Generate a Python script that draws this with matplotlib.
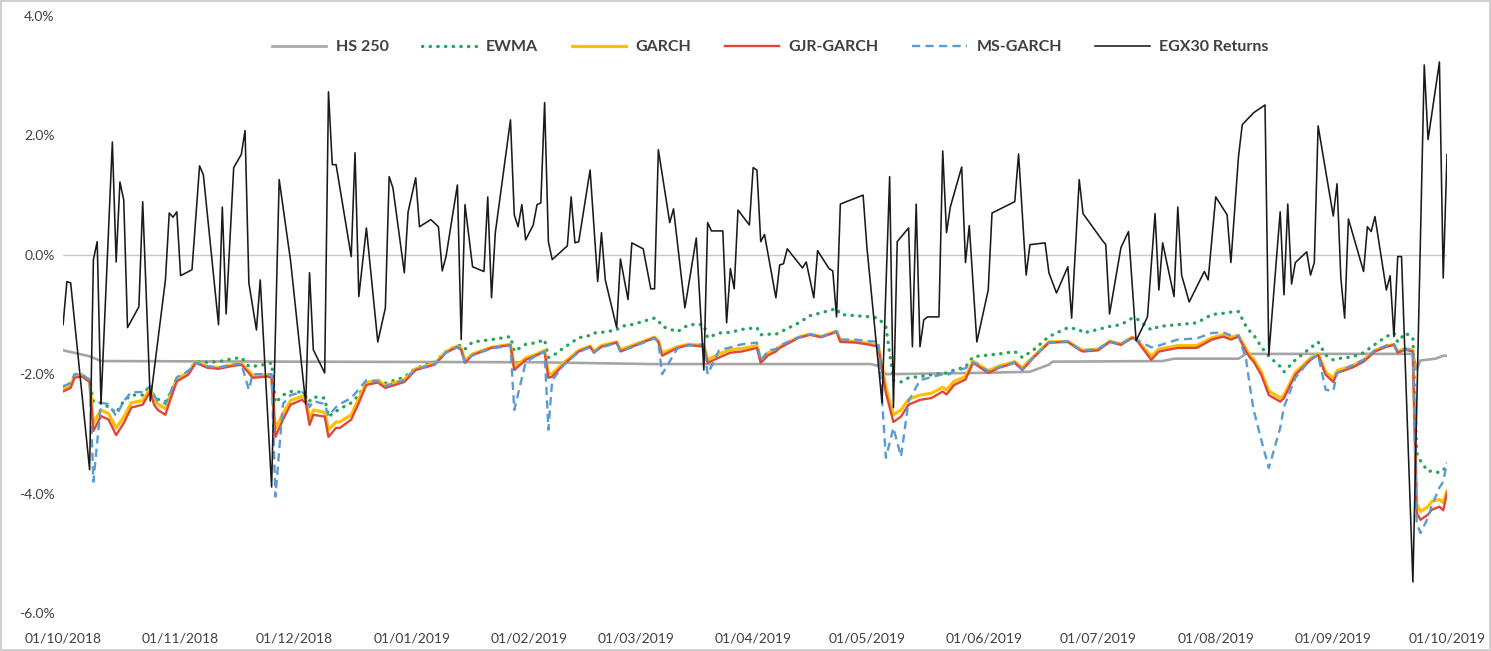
import matplotlib
matplotlib.use('Agg')
from matplotlib import pyplot as plt
from matplotlib.ticker import FuncFormatter
import matplotlib.dates as mdates
import pandas as pd

plt.rcParams['font.family'] = ['Lato', 'DejaVu Sans']

start = pd.Timestamp('2018-10-01')
month_ticks = pd.date_range('2018-10-01', '2019-10-01', freq='MS')

# EGX30 daily returns in %, days counted from 01/10/2018
ret_days = [0, 1, 2, 7, 8, 9, 10, 13, 14, 15, 16, 17, 20, 21, 23, 27, 28, 29, 30, 31,
            34, 36, 37, 41, 42, 43, 45, 47, 48, 49, 51, 52, 55, 57, 60, 64, 65, 66, 69, 70,
            71, 72, 76, 77, 78, 80, 83, 85, 86, 87, 90, 91, 93, 94, 97, 99, 100, 101, 104, 105,
            106, 108, 111, 112, 113, 114, 118, 119, 120, 121, 122, 124, 125, 126, 127, 128, 129, 133, 134, 135,
            136, 139, 141, 142, 143, 146, 147, 149, 150, 153, 155, 156, 157, 160, 161, 164, 167, 169, 170, 171,
            174, 175, 176, 177, 178, 181, 182, 183, 184, 185, 188, 189, 190, 191, 195, 196, 198, 199, 202, 203,
            204, 205, 211, 212, 216, 218, 219, 220, 223, 224, 225, 226, 227, 228, 231, 232, 233, 234, 237, 238,
            239, 241, 244, 245, 251, 252, 254, 255, 259, 260, 262, 265, 266, 268, 269, 274, 275, 276, 279, 281,
            283, 286, 288, 289, 290, 293, 294, 295, 297, 301, 302, 304, 307, 308, 310, 311, 314, 317, 318, 321,
            322, 323, 324, 325, 328, 329, 330, 331, 335, 336, 337, 338, 339, 343, 344, 345, 346, 349, 350, 351,
            352, 353, 356, 359, 360, 363, 364, 365]
ret_vals = [-1.17, -0.45, -0.47, -3.60, -0.08, 0.22, -2.50, 1.89, -0.12, 1.22, 0.92, -1.22, -0.87, 0.89, -2.45, -0.42, 0.70, 0.63, 0.72, -0.35,
            -0.25, 1.49, 1.34, -1.17, 0.80, -0.99, 1.46, 1.68, 2.08, -0.47, -1.26, -0.42, -3.89, 1.26, -0.10, -2.50, -0.30, -1.59, -1.98, 2.73,
            1.51, 1.51, -0.03, 1.71, -0.70, 0.45, -1.46, -0.89, 1.31, 1.12, -0.30, 0.72, 1.29, 0.47, 0.59, 0.47, -0.27, -0.03, 1.17, -1.42,
            0.84, -0.20, -0.28, 0.97, -0.72, 0.37, 2.26, 0.67, 0.47, 0.84, 0.25, 0.50, 0.84, 0.87, 2.55, 0.22, -0.08, 0.15, 0.97, 0.20,
            0.22, 1.42, -0.45, 0.37, -0.42, -1.22, -0.07, -0.75, 0.20, 0.10, -0.57, -0.57, 1.76, 0.54, 0.77, -0.89, 0.28, -1.93, 0.54, 0.40,
            0.40, -1.14, -0.23, -0.57, 0.75, 0.50, 1.46, 1.42, 0.22, 0.34, -0.72, -0.17, -0.15, 0.10, -0.22, -0.12, -0.72, 0.07, -0.23, -0.27,
            -1.04, 0.85, 1.00, 0.13, -2.48, 1.31, -2.56, 0.22, 0.45, -1.54, 0.85, -1.54, -1.09, -1.04, -1.04, 1.74, 0.37, 0.80, 1.47, -0.13,
            0.49, -1.46, -0.59, 0.70, 0.89, 1.69, -0.34, 0.17, 0.20, -0.30, -0.64, -0.20, -1.06, 1.26, 0.69, 0.25, 0.17, -0.99, 0.12, 0.39,
            -1.44, -1.04, 0.69, -0.59, 0.20, -0.70, 0.80, -0.34, -0.79, -0.28, -0.42, 0.97, 0.67, -0.13, 1.64, 2.18, 2.38, 2.51, -1.68, 0.72,
            -0.67, 0.85, -0.49, -0.13, 0.05, -0.34, -0.13, 2.16, 0.65, 1.19, -0.39, -1.06, 0.60, -0.28, 0.47, 0.39, 0.64, -0.59, -0.35, -1.37,
            -0.03, -0.03, -5.48, 3.18, 1.93, 3.23, -0.39, 1.68]

# historical simulation VaR (250 day window)
hs_days = [0, 7, 10, 60, 125, 155, 213, 215, 217, 240, 255, 260, 261, 290, 293, 310, 312, 356, 357, 358, 362, 364, 365]
hs_vals = [-1.60, -1.70, -1.78, -1.79, -1.80, -1.83, -1.83, -1.86, -2.00, -1.98, -1.96, -1.84, -1.79, -1.78, -1.74, -1.74, -1.66, -1.66, -1.92, -1.77, -1.74, -1.69, -1.69]

# model VaR estimates in %
var_days = [0, 2, 3, 5, 7, 8, 10, 12, 14, 16,
            18, 21, 23, 24, 25, 27, 28, 30, 33, 35,
            38, 41, 44, 47, 49, 50, 54, 55, 56, 58,
            60, 63, 64, 65, 66, 69, 70, 72, 73, 76,
            78, 80, 83, 85, 90, 93, 98, 101, 104, 105,
            106, 108, 113, 118, 119, 122, 125, 127, 128, 129,
            132, 136, 139, 140, 142, 146, 147, 150, 156, 157,
            158, 162, 165, 169, 170, 173, 176, 179, 183, 184,
            186, 188, 189, 194, 197, 200, 204, 205, 209, 213,
            215, 217, 219, 221, 223, 226, 229, 232, 233, 235,
            238, 240, 241, 244, 247, 251, 253, 256, 260, 265,
            268, 269, 273, 276, 279, 282, 283, 287, 289, 294,
            299, 303, 306, 308, 310, 312, 313, 314, 316, 318,
            321, 322, 325, 329, 331, 333, 335, 336, 340, 343,
            346, 349, 351, 352, 354, 356, 357, 358, 360, 361,
            363, 364, 365]
ewma = [-2.21, -2.15, -2.05, -2.01, -2.10, -2.46, -2.48, -2.55, -2.65, -2.45,
        -2.35, -2.35, -2.18, -2.38, -2.42, -2.46, -2.35, -2.10, -1.95, -1.79,
        -1.80, -1.79, -1.75, -1.72, -1.87, -1.87, -1.83, -1.81, -2.48, -2.35,
        -2.29, -2.30, -2.38, -2.45, -2.38, -2.40, -2.71, -2.62, -2.58, -2.48,
        -2.35, -2.15, -2.10, -2.15, -2.05, -1.90, -1.80, -1.62, -1.52, -1.52,
        -1.58, -1.46, -1.42, -1.37, -1.62, -1.50, -1.47, -1.42, -1.72, -1.70,
        -1.56, -1.39, -1.35, -1.31, -1.30, -1.26, -1.20, -1.17, -1.06, -1.10,
        -1.20, -1.29, -1.17, -1.17, -1.39, -1.31, -1.30, -1.25, -1.22, -1.34,
        -1.33, -1.33, -1.30, -1.14, -1.02, -0.97, -0.90, -1.00, -1.02, -1.04,
        -1.06, -1.20, -2.10, -2.13, -2.06, -2.04, -2.01, -1.98, -1.98, -1.93,
        -1.88, -1.71, -1.70, -1.68, -1.66, -1.62, -1.72, -1.59, -1.37, -1.22,
        -1.25, -1.31, -1.25, -1.20, -1.17, -1.06, -1.06, -1.26, -1.20, -1.17,
        -1.14, -1.00, -0.98, -0.96, -0.95, -1.20, -1.28, -1.34, -1.54, -1.70,
        -1.87, -1.96, -1.76, -1.56, -1.46, -1.68, -1.76, -1.74, -1.71, -1.64,
        -1.50, -1.37, -1.31, -1.46, -1.31, -1.39, -3.32, -3.45, -3.63, -3.62,
        -3.65, -3.60, -3.55]
garch = [-2.25, -2.19, -2.03, -2.02, -2.10, -2.82, -2.60, -2.66, -2.90, -2.72,
         -2.48, -2.44, -2.24, -2.42, -2.50, -2.58, -2.40, -2.07, -1.98, -1.79,
         -1.87, -1.89, -1.85, -1.82, -1.95, -2.02, -2.01, -2.03, -2.92, -2.66,
         -2.44, -2.37, -2.42, -2.75, -2.60, -2.64, -2.93, -2.80, -2.80, -2.68,
         -2.41, -2.14, -2.10, -2.19, -2.09, -1.91, -1.82, -1.62, -1.53, -1.57,
         -1.77, -1.66, -1.55, -1.50, -1.88, -1.73, -1.66, -1.60, -2.00, -1.99,
         -1.81, -1.60, -1.53, -1.62, -1.52, -1.46, -1.59, -1.52, -1.38, -1.44,
         -1.65, -1.54, -1.50, -1.52, -1.76, -1.66, -1.59, -1.57, -1.52, -1.76,
         -1.64, -1.59, -1.54, -1.38, -1.33, -1.37, -1.28, -1.43, -1.45, -1.49,
         -1.52, -2.22, -2.68, -2.60, -2.42, -2.35, -2.32, -2.22, -2.26, -2.12,
         -2.04, -1.78, -1.82, -1.94, -1.86, -1.79, -1.89, -1.70, -1.46, -1.45,
         -1.57, -1.60, -1.58, -1.45, -1.49, -1.38, -1.41, -1.70, -1.58, -1.52,
         -1.52, -1.39, -1.34, -1.38, -1.35, -1.58, -1.68, -1.75, -1.96, -2.28,
         -2.40, -2.35, -1.97, -1.73, -1.66, -1.96, -2.07, -1.94, -1.86, -1.76,
         -1.60, -1.53, -1.50, -1.62, -1.57, -1.60, -4.18, -4.30, -4.22, -4.13,
         -4.10, -4.15, -3.95]
gjr = [-2.29, -2.23, -2.06, -2.04, -2.13, -2.95, -2.70, -2.76, -3.02, -2.82,
       -2.56, -2.51, -2.29, -2.51, -2.60, -2.68, -2.48, -2.12, -2.01, -1.81,
       -1.89, -1.91, -1.87, -1.84, -1.98, -2.06, -2.04, -2.06, -3.05, -2.76,
       -2.51, -2.43, -2.48, -2.85, -2.68, -2.71, -3.05, -2.90, -2.90, -2.76,
       -2.48, -2.18, -2.14, -2.23, -2.13, -1.93, -1.84, -1.64, -1.54, -1.59,
       -1.81, -1.68, -1.56, -1.51, -1.93, -1.76, -1.68, -1.62, -2.06, -2.04,
       -1.84, -1.62, -1.54, -1.64, -1.54, -1.47, -1.62, -1.54, -1.39, -1.46,
       -1.69, -1.56, -1.51, -1.54, -1.81, -1.72, -1.64, -1.62, -1.56, -1.81,
       -1.68, -1.62, -1.56, -1.39, -1.34, -1.38, -1.29, -1.46, -1.47, -1.51,
       -1.54, -2.31, -2.80, -2.71, -2.51, -2.43, -2.40, -2.29, -2.34, -2.18,
       -2.09, -1.81, -1.85, -1.98, -1.89, -1.81, -1.93, -1.72, -1.47, -1.46,
       -1.59, -1.62, -1.60, -1.46, -1.51, -1.39, -1.42, -1.76, -1.62, -1.56,
       -1.56, -1.42, -1.37, -1.42, -1.37, -1.62, -1.72, -1.79, -2.01, -2.35,
       -2.46, -2.40, -2.01, -1.76, -1.68, -2.01, -2.13, -1.98, -1.89, -1.79,
       -1.62, -1.54, -1.51, -1.64, -1.59, -1.62, -4.32, -4.44, -4.35, -4.27,
       -4.22, -4.28, -3.99]
msgarch = [-2.20, -2.15, -2.00, -2.00, -2.10, -3.80, -2.48, -2.50, -2.70, -2.45,
           -2.30, -2.30, -2.20, -2.35, -2.45, -2.50, -2.35, -2.05, -1.95, -1.80,
           -1.87, -1.89, -1.85, -1.82, -2.26, -2.00, -2.00, -2.00, -4.05, -2.50,
           -2.35, -2.30, -2.35, -2.55, -2.45, -2.50, -2.70, -2.55, -2.50, -2.40,
           -2.25, -2.10, -2.12, -2.20, -2.10, -1.92, -1.83, -1.64, -1.55, -1.60,
           -1.80, -1.68, -1.57, -1.52, -2.60, -1.80, -1.68, -1.62, -2.93, -2.10,
           -1.85, -1.63, -1.55, -1.63, -1.55, -1.48, -1.62, -1.55, -1.40, -1.46,
           -2.00, -1.57, -1.52, -1.50, -2.00, -1.60, -1.55, -1.50, -1.47, -1.78,
           -1.60, -1.58, -1.52, -1.38, -1.33, -1.37, -1.28, -1.42, -1.42, -1.45,
           -1.45, -3.40, -2.90, -3.38, -2.45, -2.10, -2.05, -2.00, -2.02, -1.95,
           -1.90, -1.80, -1.83, -1.95, -1.88, -1.80, -1.92, -1.71, -1.47, -1.45,
           -1.58, -1.60, -1.58, -1.45, -1.50, -1.38, -1.42, -1.55, -1.52, -1.42,
           -1.40, -1.31, -1.30, -1.35, -1.35, -1.75, -2.20, -2.60, -3.10, -3.57,
           -2.90, -2.55, -2.06, -1.75, -1.68, -2.26, -2.28, -1.98, -1.85, -1.76,
           -1.60, -1.52, -1.50, -1.62, -1.58, -1.60, -4.50, -4.66, -4.40, -4.20,
           -3.90, -3.80, -3.48]


def to_dates(days):
    return start + pd.to_timedelta(days, unit='D')


fig = plt.figure(figsize=(14.91, 6.51), dpi=100)
ax = fig.add_axes([0.0423, 0.0584, 0.9282, 0.917])

var_dates = to_dates(var_days)
ax.plot(to_dates(hs_days), hs_vals, color='#A5A5A5', lw=1.9, label='HS 250')
ax.plot(var_dates, ewma, color='#27A35A', lw=2.4, linestyle=(0, (0.1, 2.2)),
        dash_capstyle='round', label='EWMA')
ax.plot(var_dates, garch, color='#FFC000', lw=2.3, label='GARCH')
ax.plot(var_dates, gjr, color='#E0473C', lw=1.7, label='GJR-GARCH')
ax.plot(var_dates, msgarch, color='#5B9BD5', lw=1.7, linestyle=(0, (3.5, 2.2)), label='MS-GARCH')
ax.plot(to_dates(ret_days), ret_vals, color='#1A1A1A', lw=1.15, label='EGX30 Returns')

ax.axhline(0, color='#C8C8C8', lw=1.0, zorder=0)

ax.set_xlim(start, start + pd.Timedelta(days=365))
ax.set_ylim(-6, 4)
ax.set_yticks([-6, -4, -2, 0, 2, 4])
ax.yaxis.set_major_formatter(FuncFormatter(lambda v, p: '%.1f%%' % v))
ax.set_xticks(month_ticks)
ax.xaxis.set_major_formatter(mdates.DateFormatter('%d/%m/%Y'))
ax.tick_params(length=0, labelsize=10, labelcolor='#404040')
ax.tick_params(axis='x', pad=14)
ax.tick_params(axis='y', pad=6)
for s in ax.spines.values():
    s.set_visible(False)

leg = ax.legend(loc='center', bbox_to_anchor=(0.511, 0.948), ncol=6, frameon=False,
                handlelength=3.4, columnspacing=2.1, handletextpad=0.6,
                prop={'weight': 'bold', 'size': 11.5})
for t in leg.get_texts():
    t.set_color('#404040')

fig.patch.set_edgecolor('#D0D0D0')
fig.patch.set_linewidth(1.5)
fig.savefig('out.png', dpi=100)
